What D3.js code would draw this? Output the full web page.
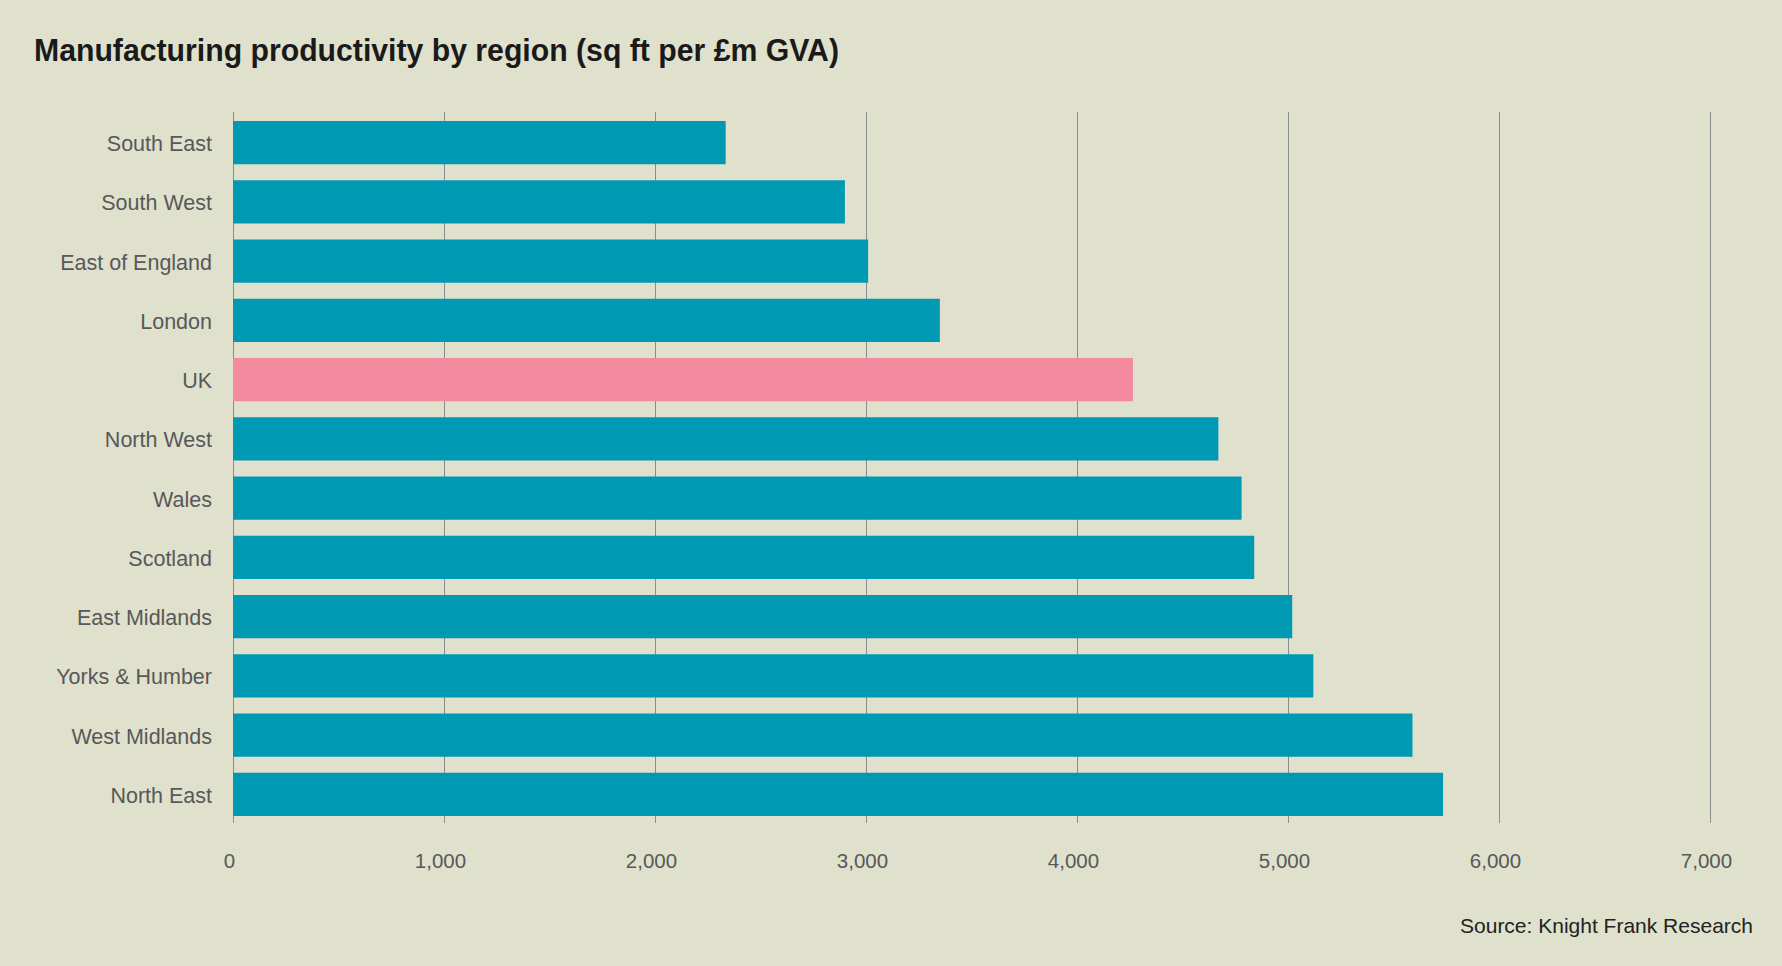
<!DOCTYPE html>
<html>
<head>
<meta charset="utf-8">
<script src="https://cdn.jsdelivr.net/npm/d3@7"></script>
<style>
  body { margin: 0; background: #dfe1cd; }
  svg { display: block; font-family: "Liberation Sans", Arial, sans-serif; }
</style>
</head>
<body>
<svg id="chart"></svg>
<script>
// values (sq ft per £m GVA)
const regions = ["South East", "South West", "East of England", "London", "UK", "North West",
  "Wales", "Scotland", "East Midlands", "Yorks & Humber", "West Midlands", "North East"];
const productivity = [2335, 2900, 3010, 3350, 4265, 4670, 4780, 4840, 5020, 5120, 5590, 5735];
const highlighted = ["UK"];
const xTicks = [0, 1000, 2000, 3000, 4000, 5000, 6000, 7000];
const titleText = "Manufacturing productivity by region (sq ft per £m GVA)";
const sourceText = "Source: Knight Frank Research";

var svgWidth = 1782, svgHeight = 966;
var margin = { top: 112, right: 72, bottom: 143, left: 233 };
var width = svgWidth - margin.left - margin.right;
var height = svgHeight - margin.top - margin.bottom;

var data = regions.map((r, i) => ({ region: r, value: productivity[i] }));

var svg = d3.select("#chart")
  .attr("width", svgWidth)
  .attr("height", svgHeight);

svg.append("rect")
  .attr("width", svgWidth)
  .attr("height", svgHeight)
  .attr("fill", "#dfe1cd");

var g = svg.append("g")
  .attr("transform", "translate(" + margin.left + "," + margin.top + ")");

var xScale = d3.scaleLinear()
  .domain([0, 7000])
  .range([0, width]);

var yScale = d3.scaleBand()
  .domain(regions)
  .range([1, height + 1])
  .paddingInner(0.27)
  .paddingOuter(0.135);

// vertical gridlines (run the full plot height, poke out under the last bar)
g.append("g")
  .selectAll("line")
  .data(xTicks)
  .join("line")
  .attr("x1", d => Math.round(xScale(d)) + 0.5)
  .attr("x2", d => Math.round(xScale(d)) + 0.5)
  .attr("y1", 0)
  .attr("y2", height)
  .attr("stroke", "#8c8c8c")
  .attr("stroke-width", 1);

g.append("g")
  .selectAll("rect")
  .data(data)
  .join("rect")
  .attr("x", xScale(0))
  .attr("y", d => yScale(d.region))
  .attr("width", d => xScale(d.value) - xScale(0))
  .attr("height", yScale.bandwidth())
  .attr("fill", d => highlighted.includes(d.region) ? "#f38a9e" : "#0099b4");

// x axis labels
var xAxis = g.append("g")
  .attr("transform", "translate(-4," + height + ")")
  .call(d3.axisBottom(xScale).tickValues(xTicks).tickSize(0).tickPadding(30).tickFormat(d3.format(",")));
xAxis.select(".domain").remove();
xAxis.selectAll("text")
  .attr("fill", "#58585a")
  .attr("font-size", 20.5)
  .attr("font-family", "'Liberation Sans', Arial, sans-serif");

// category labels
var yAxis = g.append("g")
  .call(d3.axisLeft(yScale).tickSize(0).tickPadding(21));
yAxis.select(".domain").remove();
yAxis.selectAll("text")
  .attr("fill", "#58585a")
  .attr("font-size", 21.5)
  .attr("dy", "0.4em")
  .attr("font-family", "'Liberation Sans', Arial, sans-serif");

svg.append("text")
  .attr("x", 34)
  .attr("y", 61)
  .attr("fill", "#1a1a1a")
  .attr("font-size", 31)
  .attr("font-weight", "bold")
  .attr("textLength", 805)
  .attr("lengthAdjust", "spacingAndGlyphs")
  .text(titleText);

svg.append("text")
  .attr("x", 1753)
  .attr("y", 933)
  .attr("text-anchor", "end")
  .attr("fill", "#222")
  .attr("font-size", 21)
  .text(sourceText);
</script>
</body>
</html>
